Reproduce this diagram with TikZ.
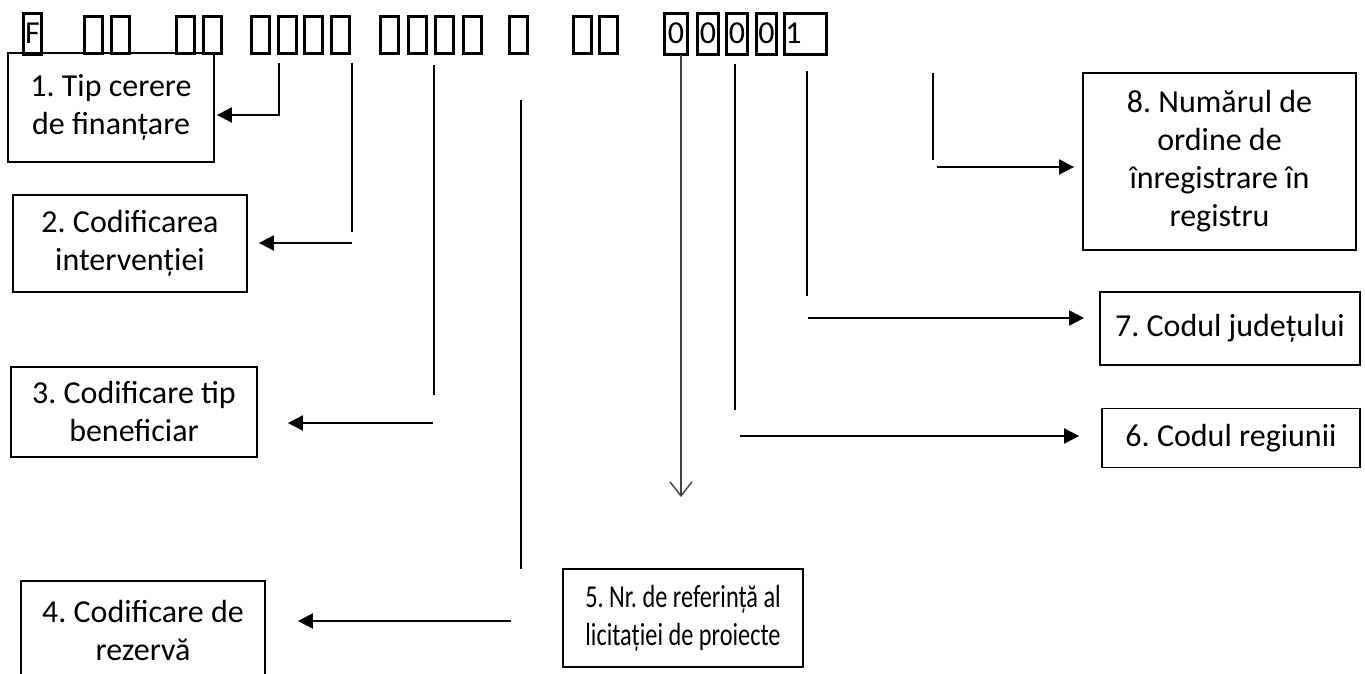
\documentclass[tikz,border=0pt]{standalone}
\usepackage{fontspec}
\setmainfont{Carlito}
\newfontfamily\narrowfont{Carlito}[FakeStretch=0.76]
\usetikzlibrary{arrows.meta}
\frenchspacing
\begin{document}
\begin{tikzpicture}[x=0.5pt,y=-0.5pt,
	cell/.style={draw,line width=1.4pt,inner sep=0pt,anchor=north west,text height=10pt,text depth=0pt,font=\fontsize{16}{16}\selectfont},
	lbl/.style={draw,line width=0.9pt,inner sep=0pt,align=center,font=\fontsize{16}{19}\selectfont},
	arr/.style={line width=1pt,-{Triangle[length=7.5pt,width=7.5pt]}},
	ln/.style={line width=1pt}]
	\useasboundingbox (0,0) rectangle (1365,674);
	\foreach \x in {83,110,175,202,250,277,303,330,379,407,434,462,508,572,598} \path
	(\x,15)node[cell,minimum width=9pt,minimum height=18.5pt](e\x){};
	\foreach \x/\w/\texn in {22/9/F,663/11.5/0,696/10.5/0,725/10.5/0,755/10/0} \path
	(\x,12)node[cell,minimum width=\w pt,minimum height=20.5pt](d\x){\texn};
	\path (783,12)node[cell,text width=20pt,inner xsep=0.5pt,minimum height=20.5pt](d783){1};
	\foreach \n/\x/\y/\w/\h/\texn in {
	1/111/107.5/103/54.5/{1. Tip cerere\\de finanțare},
	2/130/243.5/117/48.5/{2. Codificarea\\intervenției},
	3/134/412/123/45/{3. Codificare tip\\beneficiar},
	4/143/631/122/50/{4. Codificare de\\rezervă},
	6/1231/438/129/29.5/{6. Codul regiunii},
	7/1230/328.5/130/36.5/{7. Codul județului},
	8/1219.5/161.5/136.5/88.5/{8. Numărul de\\ordine de\\înregistrare în\\registru}}
	\path (\x,\y)node[lbl,minimum width=\w pt,minimum height=\h pt](b\n){\texn};
	\path (683,618)node[lbl,font=\fontsize{16}{19}\narrowfont,minimum width=120pt,minimum height=49pt](b5)
	{5. Nr. de referință al\\licitației de proiecte};
	\foreach \n/\x/\ya/\yb/\hx/\hy in {2/352/63/232/352/243,3/434/65/395/433/423,
	4/521/100/569/511/621,6/735/64/410/740/436,7/807/71/296/808/318,8/933/73/160/937/167}
	{\coordinate(v\n) at (\x,\ya); \coordinate(w\n) at (\x,\yb); \coordinate(h\n) at (\hx,\hy);
	\draw[ln] (v\n)--(w\n);}
	\coordinate(v1) at (279,63);
	\coordinate(w1) at (279,115);
	\coordinate(a0) at (681,55);
	\coordinate(a1) at (681,497);
	\draw[arr] (v1)--(w1)--([xshift=1pt]b1.east|-w1);
	\draw[arr] (h2)--([xshift=5.5pt]b2.east|-h2);
	\draw[arr] (h3)--([xshift=15pt]b3.east|-h3);
	\draw[arr] (h4)--([xshift=16pt]b4.east|-h4);
	\draw[arr] (h6)--([xshift=-11pt]b6.west|-h6);
	\draw[arr] (h7)--([xshift=-7.5pt]b7.west|-h7);
	\draw[arr] (h8)--([xshift=-4pt]b8.west|-h8);
	\draw[line width=0.7pt,black!75,-{Straight Barb[length=7pt,width=11pt]}] (a0)--(a1);
\end{tikzpicture}
\end{document}
